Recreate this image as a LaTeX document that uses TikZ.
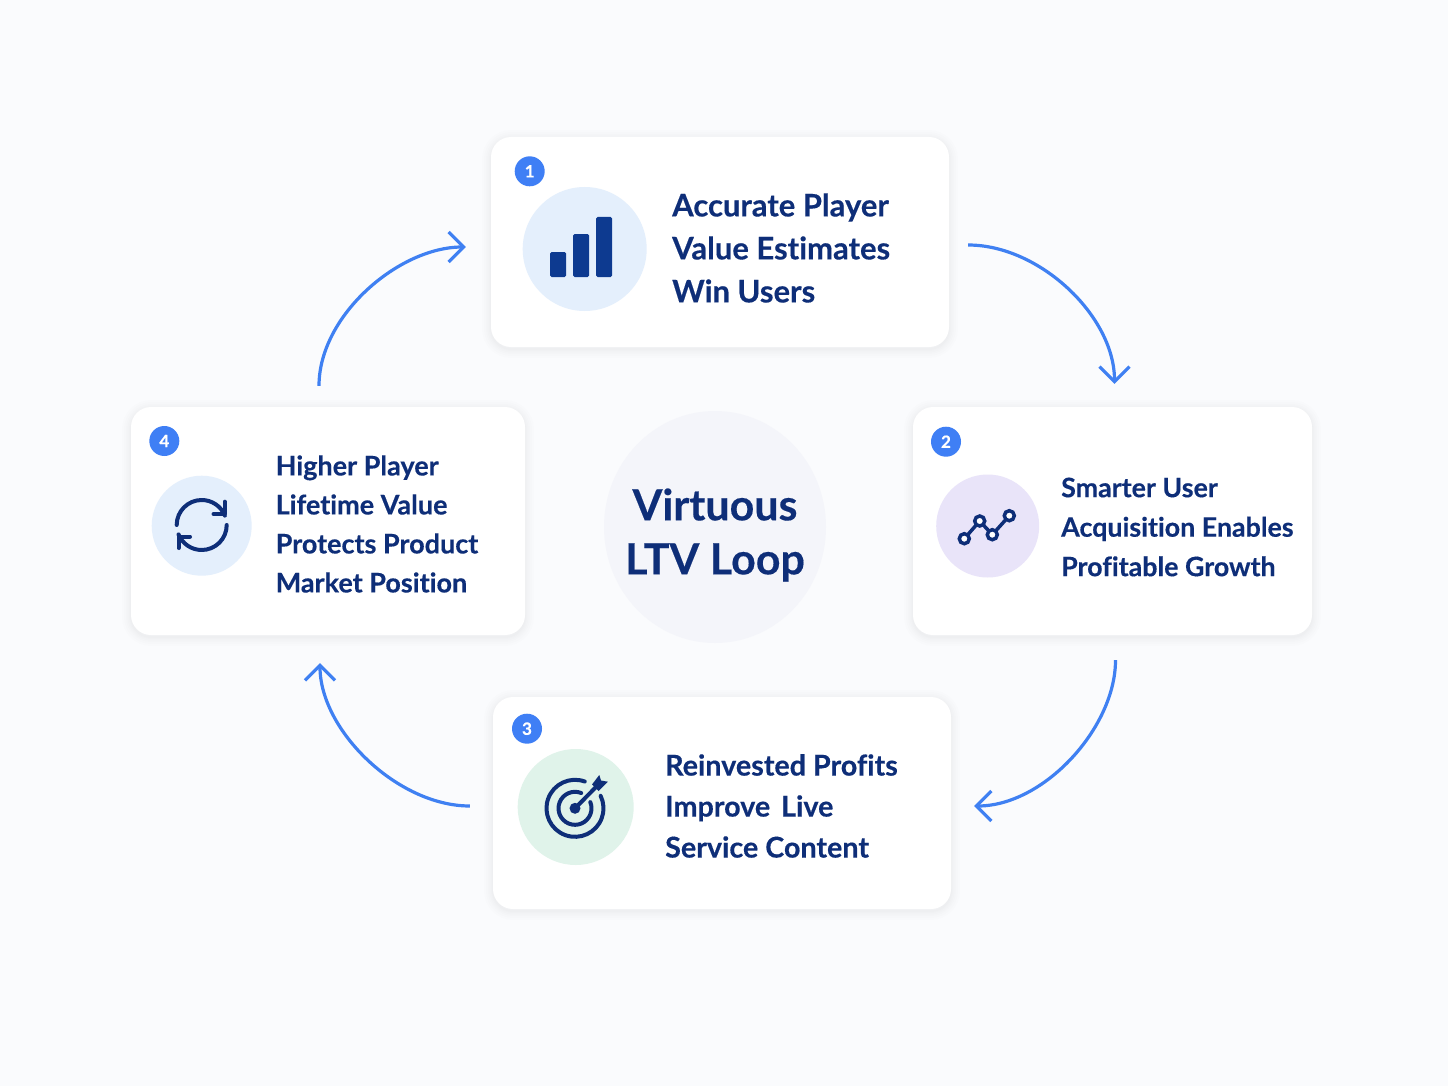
\documentclass[tikz,border=0pt]{standalone}
\usepackage{fontspec}
\setmainfont{Lato}[Ligatures=NoCommon, BoldFeatures={FakeBold=0.35}]
\usetikzlibrary{arrows.meta,shapes.geometric}
\definecolor{pagebg}{HTML}{FAFBFD}
\definecolor{navy}{HTML}{0E2E78}
\definecolor{iconnavy}{HTML}{0D3A90}
\definecolor{loopblue}{HTML}{3F80F2}
\definecolor{badgeblue}{HTML}{3F7FF5}
\definecolor{tintblue}{HTML}{E4EFFC}
\definecolor{tintviolet}{HTML}{E9E4F9}
\definecolor{tintgreen}{HTML}{E0F3EA}
\definecolor{hubfill}{HTML}{F4F5FA}
\definecolor{cardshade}{HTML}{2A3A6A}
\newcommand{\cardfont}[2]{\fontsize{#1}{#2}\selectfont\bfseries}

\begin{document}
\begin{tikzpicture}[
        x=1pt, y=-1pt,
        soft edge/.style={preaction={draw=cardshade, draw opacity=.009, line width=#1, transform canvas={yshift=-2pt}}},
        card/.style={fill=white, rounded corners=20pt, inner sep=0pt,
          soft edge=18pt, soft edge=14pt, soft edge=10pt, soft edge=7pt, soft edge=4pt, soft edge=2pt},
        card text/.style={anchor=west, align=left, inner sep=0pt, text=navy},
        badge/.style={circle, fill=badgeblue, text=white, inner sep=0pt, minimum size=30pt,
          font=\fontsize{17}{17}\selectfont\bfseries},
        tint/.style={circle, inner sep=0pt},
        loop arrow/.style={draw=loopblue, line width=3.2pt, -{Straight Barb[length=15pt, width=30pt, line width=3.2pt]}},
        icon line/.style={draw=navy, line width=4pt, line cap=round, line join=round},
        dot/.style={circle, draw=navy, line width=3.5pt, fill=white, inner sep=0pt, minimum size=10pt}
      ]
      % Page
      \useasboundingbox (0,0) rectangle (1448,1086);
      \fill[pagebg] (0,0) rectangle (1448,1086);

      % Hub
      \node[ellipse, fill=hubfill, inner sep=0pt, minimum width=222pt, minimum height=232pt] (hub) at (715,527) {};
      \node[align=center, inner sep=0pt, text=navy, font=\cardfont{43}{54}] (hubtext) at (715,535) {Virtuous\\LTV Loop};

      % Cards
      \node[card, minimum width=458pt, minimum height=210pt] (C1) at (720,242) {};
      \node[card, minimum width=399pt, minimum height=228pt] (C2) at (1112.5,521) {};
      \node[card, minimum width=458pt, minimum height=212pt] (C3) at (722,803) {};
      \node[card, minimum width=394pt, minimum height=228pt] (C4) at (328,521) {};

      % Badges
      \node[badge] (B1) at (529.7,171.3) {1};
      \node[badge] (B2) at (946,441.7) {2};
      \node[badge] (B3) at (527,728.7) {3};
      \node[badge] (B4) at (164.3,441) {4};

      % Tinted discs
      \node[tint, fill=tintblue, minimum size=124pt] (D1) at (584.7,249) {};
      \node[tint, fill=tintviolet, minimum size=103pt] (D2) at (987.7,526) {};
      \node[tint, fill=tintgreen, minimum size=116pt] (D3) at (575.7,807) {};
      \node[tint, fill=tintblue, minimum size=100pt] (D4) at (201.7,525.7) {};

      % Texts
      \node[card text, font=\cardfont{31}{43}] (T1) at (672,248) {Accurate Player\\Value Estimates\\Win Users};
      \node[card text, font=\cardfont{26.8}{39.5}] (T2) at (1061,527) {Smarter User\\Acquisition Enables\\Profitable Growth};
      \node[card text, font=\cardfont{28.7}{41}] (T3) at (665,806) {Reinvested Profits\\Improve\hspace{4pt} Live\\Service Content};
      \node[card text, font=\cardfont{27}{39}] (T4) at (275.5,524) {Higher Player\\Lifetime Value\\Protects Product\\Market Position};

      % Icon 1: bars
      \foreach \xa/\ytop in {550/252, 573/234, 596/217}
        \fill[iconnavy, rounded corners=1.5pt] (\xa,\ytop) rectangle (\xa+16,277);

      % Icon 2: line chart
      \draw[icon line, line width=3.5pt] (964.3,538.7) coordinate (Q1) -- (979.7,521) coordinate (Q2)
        -- (992.3,534.7) coordinate (Q3) -- (1009.3,515.7) coordinate (Q4);
      \foreach \pt in {Q1,Q2,Q3,Q4}
        \node[dot] (dot\pt) at (\pt) {};

      % Icon 3: target
      \coordinate (bull) at (575,808.3);
      \draw[icon line] ([shift={(-290:28.5pt)}]bull) arc[start angle=-290, end angle=26, radius=28.5pt];
      \draw[icon line] ([shift={(-292:16.5pt)}]bull) arc[start angle=-292, end angle=22, radius=16.5pt];
      \fill[navy] (bull) circle (5.5pt);
      \draw[icon line] (bull) -- (596,787);
      \fill[navy] (592,784.5) -- (599.3,775) -- (601,780.5) -- (607.8,781.7) -- (598.5,791) -- cycle;

      % Icon 4: refresh
      \coordinate (spin) at (201.7,525);
      \draw[icon line] ([shift={(180:25pt)}]spin) arc[start angle=180, end angle=338, radius=25pt, y radius=-25pt];
      \draw[icon line] (224.7,501.7) -- (224.7,514) -- (213.5,514);
      \draw[icon line] ([shift={(0:25pt)}]spin) arc[start angle=0, end angle=-158, radius=25pt, y radius=25pt];
      \draw[icon line] (178.5,548) -- (178.5,536.5) -- (190,536.5);

      % Loop edges
      \draw[loop arrow, shorten <=19pt, shorten >=23pt] ([yshift=-3pt]C1.east) to[out=0, in=90] ([xshift=2pt]C2.north);
      \draw[loop arrow, shorten <=25pt, shorten >=23pt] ([xshift=3pt]C2.south) to[out=-90, in=0] ([yshift=-3pt]C3.east);
      \draw[loop arrow, shorten <=23pt, shorten >=28pt] ([yshift=-3pt]C3.west) to[out=180, in=-90] ([xshift=-8pt]C4.south);
      \draw[loop arrow, shorten <=21pt, shorten >=25pt] ([xshift=-9pt]C4.north) to[out=90, in=180] ([yshift=-5pt]C1.west);
    \end{tikzpicture}
\end{document}
